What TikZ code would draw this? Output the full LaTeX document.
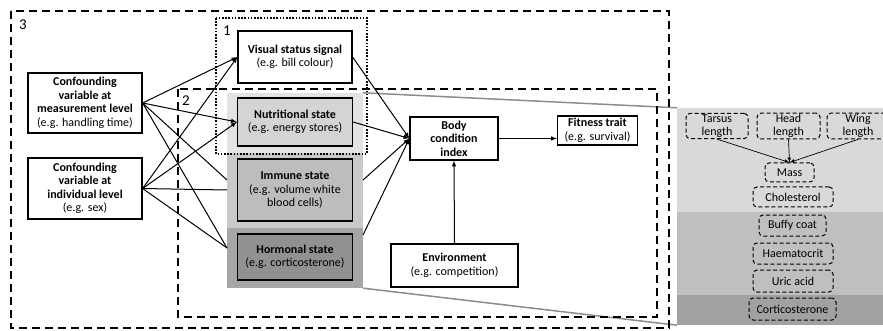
\documentclass[tikz,border=0pt]{standalone}
\usepackage{fontspec}
\setmainfont{Carlito}
\usetikzlibrary{positioning}
\usetikzlibrary{calc}
\usetikzlibrary{arrows}

\begin{document}
\begin{tikzpicture}[x=1pt, y=-1pt, ->, >=latex, font=\fontsize{12}{13.5}\selectfont]
    \tikzstyle{block}=[draw=black, rectangle, line width=1.2pt, fill=white, align=center, inner sep=0pt]
    \tikzstyle{panel}=[rectangle, draw=none, inner sep=0pt, minimum width=136pt]
    \tikzstyle{band}=[rectangle, draw=none, inner sep=0pt, minimum width=206pt]
    \tikzstyle{measure}=[draw=black, rounded corners=4pt, dash pattern=on 4pt off 2.5pt, line width=1pt, align=center, inner sep=1pt, minimum height=20pt]
    \tikzstyle{frame}=[-, line width=1.6pt, dash pattern=on 8pt off 5pt]
    \tikzstyle{link}=[line width=1pt]
    \tikzstyle{annot}=[font=\fontsize{15}{17}\selectfont]

    \useasboundingbox (0,0) rectangle (883,331);

    %% Grey panels behind the state boxes
    \node[panel, fill=black!11, minimum height=60pt] (nutpanel) at (295,123) {};
    \node[panel, fill=black!21, minimum height=75pt] (immpanel) at (295,190.5) {};
    \node[panel, fill=black!35, minimum height=60pt] (horpanel) at (295,258) {};

    %% Zoomed panel of measures
    \node[band, fill=black!15, minimum height=104pt] (banda) at (780,160) {};
    \node[band, fill=black!25, minimum height=83pt] (bandb) at (780,253.5) {};
    \node[band, fill=black!37, minimum height=30pt] (bandc) at (780,310) {};
    \draw[-, line width=1.5pt, black!45] (nutpanel.north east) -- (banda.north west);
    \draw[-, line width=1.5pt, black!45] (horpanel.south east) -- (bandc.south west);

    %% Frames 1, 2 and 3
    \draw[frame] (11,11) rectangle (669,328);
    \draw[frame] (178,89) rectangle (657,317);
    \draw[-, line width=1.6pt, dash pattern=on 1.6pt off 1.6pt] (216,18) rectangle (367,154);
    \node[annot] (n3) at (23,25) {3};
    \node[annot] (n1) at (227,31) {1};
    \node[annot] (n2) at (186,101) {2};

    %% Confounding variables
    \node[block, minimum width=114pt, minimum height=60pt] (confmeas) at (85,103) {\textbf{Confounding}\\\textbf{variable at}\\\textbf{measurement level}\\(e.g. handling time)};
    \node[block, minimum width=114pt, minimum height=61pt] (confind) at (85,188.5) {\textbf{Confounding}\\\textbf{variable at}\\\textbf{individual level}\\(e.g. sex)};

    %% States
    \node[block, minimum width=114pt, minimum height=52pt] (visual) at (295,57) {\textbf{Visual status signal}\\(e.g. bill colour)};
    \node[block, minimum width=115pt, minimum height=48pt, fill=black!17] (nutr) at (295,122) {\textbf{Nutritional state}\\(e.g. energy stores)};
    \node[block, minimum width=115pt, minimum height=62pt, fill=black!26] (immune) at (295,190) {\textbf{Immune state}\\(e.g. volume white\\blood cells)};
    \node[block, minimum width=115pt, minimum height=46pt, fill=black!43] (hormon) at (295,257) {\textbf{Hormonal state}\\(e.g. corticosterone)};

    \node[block, minimum width=88pt, minimum height=43pt] (bci) at (454,138.5) {\textbf{Body}\\\textbf{condition}\\\textbf{index}};
    \node[block, minimum width=127pt, minimum height=43pt] (env) at (454.5,265.5) {\textbf{Environment}\\(e.g. competition)};
    \node[block, minimum width=80pt, minimum height=29pt, inner ysep=1.5pt] (fit) at (597.5,130.5) {\textbf{Fitness trait}\\(e.g. survival)};

    \coordinate (immin1) at (227,180);
    \coordinate (immin2) at (227,190);
    \coordinate (horin) at (227,248);
    \coordinate (immout) at (363,180);
    \coordinate (horout) at (363,235);

    %% Confounders to states
    \draw[link] (confmeas.east) -- (visual.west);
    \draw[link] (confmeas.east) -- (nutr.west);
    \draw[link, -] (confmeas.east) -- (immin1);
    \draw[link, -] (confmeas.east) -- (horin);
    \draw[link] (confind.east) -- (visual.west);
    \draw[link] (confind.east) -- (nutr.west);
    \draw[link, -] (confind.east) -- (immin2);
    \draw[link, -] (confind.east) -- (horin);

    %% States to body condition
    \draw[link] (visual.east) -- (bci.west);
    \draw[link] (nutr.east) -- (bci.west);
    \draw[link] (immout) -- (bci.west);
    \draw[link] (horout) -- (bci.west);
    \draw[link] (env.north) -- (bci.south);
    \draw[link] (bci.east) -- (bci.east -| fit.west);

    %% Measures
    \node[measure, minimum width=62pt] (tarsus) at (717,126) {Tarsus\\length};
    \node[measure, minimum width=63pt] (head) at (788.5,126) {Head\\length};
    \node[measure, minimum width=62pt] (wing) at (858,126) {Wing\\length};
    \node[measure, minimum width=49pt, minimum height=19pt] (mass) at (789.5,172.5) {Mass};
    \node[measure, minimum width=80pt] (chol) at (793,197) {Cholesterol};
    \node[measure, minimum width=67pt, minimum height=21pt] (buffy) at (792.5,225.5) {Buffy coat};
    \node[measure, minimum width=80pt, minimum height=21pt] (haem) at (793,253.5) {Haematocrit};
    \node[measure, minimum width=80pt, minimum height=22pt] (uric) at (793,281) {Uric acid};
    \node[measure, minimum width=87pt, minimum height=22pt] (cort) at (792.5,309) {Corticosterone};

    \draw[line width=0.7pt] (tarsus.south) -- (mass.north);
    \draw[line width=0.7pt] (head.south) -- (mass.north);
    \draw[line width=0.7pt] (wing.south) -- (mass.north);
\end{tikzpicture}
\end{document}
